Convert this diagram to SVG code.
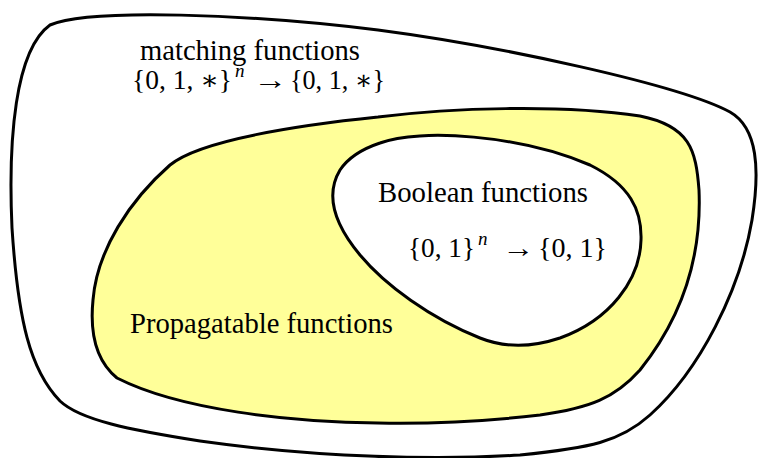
<svg xmlns="http://www.w3.org/2000/svg" width="758" height="458" viewBox="0 0 758 458">
<style>
.r{stroke:#000;stroke-width:3;stroke-linejoin:round}
.t{font-family:"Liberation Serif","Times New Roman",serif;font-size:28.5px;fill:#000}
.m{font-family:"Liberation Serif","DejaVu Serif",serif;font-size:27px;fill:#000}
.i{font-family:"Liberation Serif","DejaVu Serif",serif;font-style:italic;font-size:19px;fill:#000}
</style>
<rect width="758" height="458" fill="#fff"/>
<g id="matching">
<path class="r" fill="#fff" d="M 50,25 C 90,8 250,14 378,30 C 500,46 680,85 730,112 C 758,128 760,170 752,220 C 740,290 700,370 650,415 C 620,442 590,448 520,455 C 440,460 320,458 200,441 C 130,430 80,420 60,401 C 30,370 18,320 12,228 C 8,140 15,50 50,25 Z"/>
<text class="t" x="140" y="60" textLength="220" lengthAdjust="spacingAndGlyphs">matching functions</text>
<text class="m" x="132" y="89" textLength="100" lengthAdjust="spacingAndGlyphs">{0, 1, ∗}</text>
<text class="i" x="235" y="77">n</text>
<text class="m" x="253" y="89" textLength="34" lengthAdjust="spacingAndGlyphs">→</text>
<text class="m" x="290" y="89" textLength="95" lengthAdjust="spacingAndGlyphs">{0, 1, ∗}</text>
</g>
<g id="propagatable">
<path class="r" fill="#ffff99" d="M 378,117 C 450,108 560,104 640,116 C 690,126 696,150 699,190 C 702,260 680,320 640,370 C 615,398 590,408 540,415 C 480,422 430,424 378,423 C 290,422 180,410 117,378 C 95,360 90,330 93,300 C 97,250 130,200 170,165 C 200,140 300,125 378,117 Z"/>
<text class="t" x="130" y="333" textLength="263" lengthAdjust="spacingAndGlyphs">Propagatable functions</text>
</g>
<g id="boolean">
<path class="r" fill="#fff" d="M 380,143 C 420,128 520,135 590,165 C 630,185 642,210 641,240 C 640,280 610,320 560,338 C 530,348 505,348 480,338 C 430,318 385,285 360,255 C 335,225 325,195 340,170 C 350,155 365,148 380,143 Z"/>
<text class="t" x="378" y="202" textLength="210" lengthAdjust="spacingAndGlyphs">Boolean functions</text>
<text class="m" x="408" y="257" textLength="67" lengthAdjust="spacingAndGlyphs">{0, 1}</text>
<text class="i" x="478" y="245">n</text>
<text class="m" x="502" y="257" textLength="32" lengthAdjust="spacingAndGlyphs">→</text>
<text class="m" x="538" y="257" textLength="69" lengthAdjust="spacingAndGlyphs">{0, 1}</text>
</g>
<g id="connectors"/>
</svg>
